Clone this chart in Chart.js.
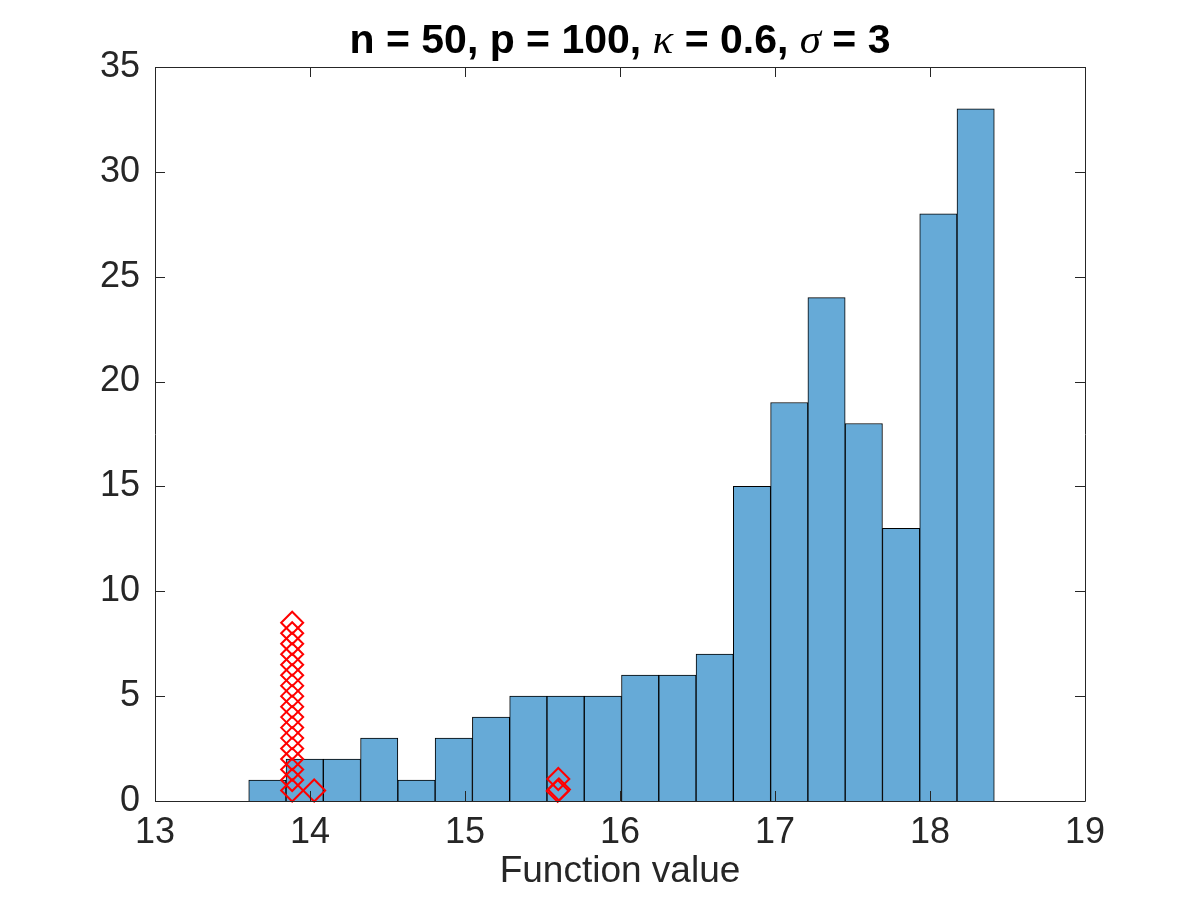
<!DOCTYPE html>
<html>
<head>
<meta charset="utf-8">
<script src="https://cdn.jsdelivr.net/npm/chart.js@4.4.0/dist/chart.umd.min.js"></script>
<style>
  html, body { margin: 0; padding: 0; background: #fff; }
  #wrap { width: 1200px; height: 900px; }
</style>
</head>
<body>
<div id="wrap"><canvas id="histChart" width="1200" height="900"></canvas></div>
<script>
// Histogram bins (centres) and counts
const binCenters = [13.725, 13.9655, 14.206, 14.4465, 14.687, 14.9275, 15.168, 15.4085, 15.649, 15.8895,
                    16.13, 16.3705, 16.611, 16.8515, 17.092, 17.3325, 17.573, 17.8135, 18.054, 18.2945];
const binCounts = [1, 2, 2, 3, 1, 3, 4, 5, 5, 5, 6, 6, 7, 15, 19, 24, 18, 13, 28, 33];

// Red diamond markers
const markerX = [13.885, 13.885, 13.885, 13.885, 13.885, 13.885, 13.885, 13.885, 13.885,
                 13.885, 13.885, 13.885, 13.885, 13.885, 13.885, 13.885, 13.885,
                 14.027, 15.598, 15.606, 15.602];
const markerY = [0.5, 1, 1.5, 2, 2.5, 3, 3.5, 4, 4.5, 5, 5.5, 6, 6.5, 7, 7.5, 8, 8.5,
                 0.5, 0.48, 0.55, 1.05];

const xTicks = [13, 14, 15, 16, 17, 18, 19];
const yTicks = [0, 5, 10, 15, 20, 25, 30, 35];

const titleParts = [
    { text: 'n = 50, p = 100, ', italic: false },
    { text: 'κ', italic: true },
    { text: ' = 0.6, ', italic: false },
    { text: 'σ', italic: true },
    { text: ' = 3', italic: false }
];

const AXIS_COLOR = '#262626';
const TICK_LEN = 10;

// MATLAB-like box with inward ticks on all four sides
const boxPlugin = {
    id: 'matlabBox',
    afterDatasetsDraw(chart) {
        const { ctx, chartArea: a, scales: { x, y } } = chart;
        ctx.save();
        ctx.strokeStyle = AXIS_COLOR;
        ctx.lineWidth = 1;
        ctx.beginPath();
        ctx.rect(Math.round(a.left) + 0.5, Math.round(a.top) + 0.5,
                 Math.round(a.right - a.left), Math.round(a.bottom - a.top));
        xTicks.forEach(v => {
            const px = Math.round(x.getPixelForValue(v)) + 0.5;
            ctx.moveTo(px, a.bottom);
            ctx.lineTo(px, a.bottom - TICK_LEN);
            ctx.moveTo(px, a.top);
            ctx.lineTo(px, a.top + TICK_LEN);
        });
        yTicks.forEach(v => {
            const py = Math.round(y.getPixelForValue(v)) + 0.5;
            ctx.moveTo(a.left, py);
            ctx.lineTo(a.left + TICK_LEN, py);
            ctx.moveTo(a.right, py);
            ctx.lineTo(a.right - TICK_LEN, py);
        });
        ctx.stroke();
        ctx.restore();
    }
};

// Title with italic greek letters
const titlePlugin = {
    id: 'mixedTitle',
    afterDraw(chart) {
        const { ctx, chartArea: a } = chart;
        const boldFont = 'bold 41px "Liberation Sans", Arial, sans-serif';
        const italFont = 'italic 43px "Liberation Serif", "DejaVu Serif", serif';
        ctx.save();
        ctx.fillStyle = '#000';
        ctx.textBaseline = 'alphabetic';
        ctx.textAlign = 'left';
        let total = 0;
        const widths = titleParts.map(p => {
            ctx.font = p.italic ? italFont : boldFont;
            const w = ctx.measureText(p.text).width;
            total += w;
            return w;
        });
        let cx = (a.left + a.right) / 2 - total / 2;
        titleParts.forEach((p, i) => {
            ctx.font = p.italic ? italFont : boldFont;
            ctx.fillText(p.text, cx, 53);
            cx += widths[i];
        });
        ctx.restore();
    }
};

const ctx = document.getElementById('histChart').getContext('2d');
new Chart(ctx, {
    type: 'bar',
    data: {
        datasets: [{
            type: 'scatter',
            data: markerX.map((v, i) => ({ x: v, y: markerY[i] })),
            pointStyle: 'rectRot',
            pointRadius: 11,
            pointHoverRadius: 11,
            borderColor: '#ff0000',
            backgroundColor: 'rgba(0,0,0,0)',
            pointBorderWidth: 2,
            showLine: false,
            clip: false,
            order: 0
        }, {
            type: 'bar',
            data: binCenters.map((v, i) => ({ x: v, y: binCounts[i] })),
            backgroundColor: '#66AAD7',
            borderColor: '#000000',
            borderWidth: 1,
            borderSkipped: 'start',
            barPercentage: 1,
            categoryPercentage: 1,
            grouped: false,
            order: 1
        }]
    },
    options: {
        responsive: false,
        animation: false,
        devicePixelRatio: 1,
        layout: { padding: { left: 95, right: 115, top: 67, bottom: 0 } },
        plugins: {
            legend: { display: false },
            tooltip: { enabled: false },
            title: { display: false }
        },
        scales: {
            x: {
                type: 'linear',
                min: 13,
                max: 19,
                offset: false,
                grid: { display: false, drawTicks: false, offset: false },
                border: { display: false },
                afterBuildTicks: scale => { scale.ticks = xTicks.map(v => ({ value: v })); },
                afterFit: scale => { scale.height = 99; },
                ticks: {
                    color: AXIS_COLOR,
                    padding: 10,
                    maxRotation: 0,
                    font: { family: '"Liberation Sans", Arial, sans-serif', size: 36 }
                },
                title: {
                    display: true,
                    text: 'Function value',
                    color: AXIS_COLOR,
                    padding: { top: 0, bottom: 10 },
                    font: { family: '"Liberation Sans", Arial, sans-serif', size: 37, lineHeight: 1 }
                }
            },
            y: {
                type: 'linear',
                min: 0,
                max: 35,
                grid: { display: false, drawTicks: false },
                border: { display: false },
                afterBuildTicks: scale => { scale.ticks = yTicks.map(v => ({ value: v })); },
                afterFit: scale => { scale.width = 60; },
                ticks: {
                    color: AXIS_COLOR,
                    padding: 15,
                    font: { family: '"Liberation Sans", Arial, sans-serif', size: 36 }
                }
            }
        }
    },
    plugins: [boxPlugin, titlePlugin]
});
</script>
</body>
</html>
